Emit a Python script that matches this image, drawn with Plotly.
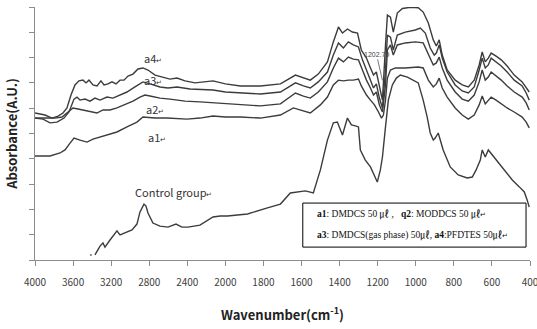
import plotly.graph_objects as go

# ---------------- data (wavenumber in cm-1, absorbance in arbitrary units) ----------------
tick_labels = ["4000", "3600", "3200", "2800", "2400", "2000", "1800", "1600",
               "1400", "1200", "1000", "800", "600", "400"]
tick_wavenumbers = [4000, 3600, 3200, 2800, 2400, 2000, 1800, 1600, 1400, 1200, 1000, 800, 600, 400]

control_wn = [3420, 3405, None, 3370, 3317, 3286, 3265, 3212, 3139, 3107, 3055, 2981, 2929, 2897, 2855, 2834,
              2813, 2761, 2687, 2603, 2519, 2456, 2393, 2267, 2130, 2053, 1989, 1884, 1779, 1711,
              1659, 1622, 1580, 1538, 1501, 1464, 1433, 1412, 1385, 1359, 1338, 1317, 1301, 1291,
              1265, 1238, 1217, 1202, 1186, 1175, 1159, 1144, 1123, 1102, 1081, 1044, 987, 961,
              940, 924, 908, 898, 882, 871, 856, 819, 777, 730, 703, 683, 661, 651, 635, 619,
              598, 578, 562, 525, 493, 456, 430, 415, 404]
control_abs = [0.20, 0.20, None, 0.20, 0.55, 0.67, 0.51, 0.79, 1.15, 0.99, 1.07, 1.19, 1.42, 1.90, 2.21, 2.13,
               1.86, 1.46, 1.34, 1.30, 1.42, 1.30, 1.30, 1.38, 1.70, 1.74, 1.74, 1.82, 2.06, 2.21,
               2.65, 2.69, 2.73, 2.65, 3.56, 4.74, 5.42, 5.45, 4.94, 5.61, 5.34, 5.30, 5.26, 4.35,
               3.95, 3.68, 3.36, 3.08, 3.56, 4.07, 5.26, 6.32, 6.92, 7.19, 7.31, 7.23, 7.00, 6.32,
               5.65, 5.02, 4.74, 4.82, 5.02, 4.74, 4.35, 3.68, 3.36, 3.24, 3.28, 3.56, 3.95, 4.35,
               4.07, 4.35, 4.15, 3.95, 3.83, 3.48, 3.16, 2.89, 2.69, 2.37, 2.09]

a1_wn = [4000, 3842, 3737, 3685, 3632, 3590, 3527, 3454, 3391, 3317, 3233, 3139, 3034, 2929, 2866,
         2739, 2613, 2403, 2267, 2130, 2000, 1921, 1816, 1711, 1643, 1606, 1554, 1501, 1464, 1433,
         1406, 1380, 1354, 1328, 1301, 1286, 1259, 1238, 1217, 1196, 1180, 1170, 1159, 1149, 1133,
         1107, 1055, 987, 961, 934, 908, 892, 877, 861, 835, 793, 756, 724, 693, 667, 651, 635,
         619, 604, 578, 551, 520, 483, 441, 420, 404]
a1_abs = [4.11, 4.11, 4.23, 4.35, 4.62, 4.82, 4.74, 4.66, 4.78, 4.86, 4.94, 5.06, 5.26, 5.45, 5.65,
          5.61, 5.61, 5.57, 5.61, 5.69, 5.65, 5.65, 5.61, 5.73, 6.01, 5.93, 5.81, 6.13, 6.44, 6.92,
          7.11, 7.08, 7.11, 7.11, 7.15, 6.88, 6.52, 6.32, 6.13, 5.85, 5.61, 5.73, 6.32, 7.19, 7.51,
          7.59, 7.59, 7.63, 7.59, 7.11, 6.84, 6.96, 7.19, 6.80, 6.44, 6.01, 5.73, 5.57, 5.73, 6.13,
          6.48, 6.17, 6.32, 6.44, 6.32, 6.17, 6.01, 5.85, 5.65, 5.45, 5.22]

a2_wn = [4000, 3895, 3790, 3716, 3653, 3601, 3548, 3496, 3422, 3349, 3286, 3212, 3139, 3055, 2971,
         2897, 2845, 2792, 2687, 2582, 2424, 2267, 2130, 2000, 1921, 1816, 1711, 1632, 1590, 1554,
         1512, 1464, 1433, 1406, 1380, 1354, 1328, 1301, 1280, 1259, 1238, 1222, 1207, 1191, 1175,
         1159, 1149, 1133, 1118, 1097, 1055, 1002, 961, 934, 908, 892, 877, 861, 835, 793, 756,
         724, 693, 667, 651, 635, 619, 604, 578, 551, 520, 483, 441, 420, 404]
a2_abs = [5.61, 5.61, 5.61, 5.65, 5.85, 6.01, 5.97, 5.93, 5.85, 5.81, 5.93, 5.93, 6.01, 6.13, 6.28,
          6.44, 6.52, 6.48, 6.40, 6.36, 6.28, 6.25, 6.21, 6.17, 6.13, 6.09, 6.17, 6.60, 6.48, 6.40,
          6.64, 7.04, 7.59, 7.98, 7.83, 8.02, 7.94, 7.91, 7.51, 7.11, 6.80, 6.52, 6.64, 6.13, 5.85,
          6.92, 8.30, 8.50, 8.10, 8.50, 8.58, 8.62, 8.58, 8.10, 7.71, 7.79, 8.02, 7.59, 7.11, 6.64,
          6.36, 6.28, 6.52, 7.04, 7.51, 7.11, 7.23, 7.43, 7.27, 7.11, 6.88, 6.64, 6.44, 6.21, 5.93]

a3_wn = [4000, 3916, 3842, 3769, 3695, 3643, 3590, 3559, 3527, 3475, 3422, 3370, 3317, 3244, 3181,
         3107, 3034, 2950, 2866, 2792, 2687, 2603, 2508, 2372, 2214, 2130, 2000, 1921, 1816, 1711,
         1632, 1590, 1554, 1512, 1464, 1433, 1406, 1380, 1354, 1328, 1301, 1280, 1259, 1238, 1222,
         1207, 1191, 1175, 1159, 1149, 1133, 1118, 1097, 1055, 1002, 976, 950, 924, 903, 892, 877,
         861, 835, 793, 756, 724, 693, 667, 651, 635, 619, 604, 578, 551, 520, 483, 441, 420, 404]
a3_abs = [5.61, 5.57, 5.42, 5.45, 5.61, 5.85, 6.36, 6.44, 6.32, 6.36, 6.28, 6.40, 6.32, 6.44, 6.40,
          6.52, 6.64, 6.84, 7.04, 6.96, 6.84, 6.80, 6.84, 6.76, 6.72, 6.72, 6.64, 6.60, 6.56, 6.64,
          7.00, 6.88, 6.80, 7.04, 7.43, 8.10, 8.58, 8.38, 8.62, 8.50, 8.42, 7.91, 7.51, 7.11, 6.80,
          6.96, 6.40, 6.01, 7.51, 8.89, 8.81, 8.30, 8.89, 9.01, 9.09, 9.17, 8.97, 8.38, 8.10, 8.18,
          8.50, 7.98, 7.43, 6.92, 6.68, 6.60, 6.84, 7.51, 7.98, 7.59, 7.71, 7.98, 7.83, 7.67, 7.43,
          7.11, 6.88, 6.60, 6.32]

a4_wn = [4000, 3895, 3821, 3758, 3706, 3664, 3622, 3580, 3538, 3496, 3464, 3433, 3391, 3349, 3307,
         3275, 3233, 3191, 3149, 3107, 3065, 3023, 2971, 2918, 2866, 2813, 2739, 2655, 2582, 2508,
         2424, 2319, 2214, 2130, 2000, 1921, 1816, 1711, 1632, 1590, 1554, 1512, 1464, 1433, 1406,
         1385, 1359, 1333, 1306, 1286, 1259, 1238, 1222, 1207, 1191, 1175, 1159, 1149, 1133, 1118,
         1097, 1070, 1028, 987, 961, 934, 908, 892, 877, 861, 835, 793, 756, 724, 693, 667, 651,
         635, 619, 604, 578, 551, 520, 483, 441, 420, 404]
a4_abs = [5.81, 5.73, 5.61, 5.69, 5.81, 6.01, 6.52, 6.92, 7.08, 7.11, 7.00, 7.11, 6.92, 6.88, 7.08,
          6.92, 6.96, 7.04, 6.96, 7.11, 7.11, 7.27, 7.35, 7.55, 7.59, 7.51, 7.31, 7.23, 7.15, 7.19,
          7.08, 7.00, 7.04, 7.08, 6.96, 6.88, 6.88, 6.96, 7.31, 7.19, 7.11, 7.35, 7.83, 8.62, 9.21,
          8.97, 9.13, 9.01, 8.97, 8.30, 7.98, 7.59, 7.31, 7.43, 6.80, 6.32, 8.50, 9.68, 9.60, 9.01,
          9.76, 9.94, 9.99, 9.97, 9.80, 9.37, 8.70, 8.46, 8.70, 8.10, 7.51, 7.11, 6.92, 6.84, 7.11,
          7.71, 8.22, 7.83, 7.98, 8.18, 8.06, 7.91, 7.67, 7.31, 7.04, 6.84, 6.64]

series_names = ["Control group", "a1", "a2", "a3", "a4"]


# ---------------- axis transform: 400 cm-1 steps above 2000, 200 cm-1 steps below ----------------
def wn_to_pos(w):
    if w is None:
        return None
    if w >= 2000:
        return (4000 - w) / 400.0
    return 5 + (2000 - w) / 200.0


LINE_COLOR = "#3c3c3c"
fig = go.Figure()
for name, wn, ab in [("Control group", control_wn, control_abs), ("a1", a1_wn, a1_abs),
                     ("a2", a2_wn, a2_abs), ("a3", a3_wn, a3_abs), ("a4", a4_wn, a4_abs)]:
    fig.add_trace(go.Scatter(x=[wn_to_pos(w) for w in wn], y=ab, mode="lines", name=name,
                             line=dict(color=LINE_COLOR, width=1.4), showlegend=False,
                             connectgaps=False))

label_font = dict(family="Noto Sans CJK KR, Noto Sans, sans-serif", size=11, color="#333333")
ret = "<span style='font-size:7px'>↵</span>"
# curve labels (wavenumber, absorbance)
curve_labels = [("a4", 2760, 8.0), ("a3", 2760, 7.1), ("a2", 2740, 5.95), ("a1", 2720, 4.85),
                ("Control group", 2550, 2.7)]
for txt, w, a in curve_labels:
    fig.add_annotation(x=wn_to_pos(w), y=a, text=txt + ret, showarrow=False, font=label_font,
                       xanchor="center", yanchor="middle")

# peak label
fig.add_annotation(x=wn_to_pos(1175), y=7.1, text="1202.79", showarrow=True, arrowhead=0,
                   arrowwidth=0.8, arrowcolor="#555555", ax=-6, ay=-26,
                   font=dict(family="Liberation Sans, sans-serif", size=7, color="#444444"))

# legend box
fig.add_shape(type="rect", xref="paper", yref="paper", x0=0.541, x1=0.992, y0=0.051, y1=0.225,
              line=dict(color="black", width=1), fillcolor="white", layer="above")
box_font = dict(family="Liberation Serif, Noto Sans CJK KR, serif", size=9.5, color="#111111")
fig.add_annotation(xref="paper", yref="paper", x=0.565, y=0.178, xanchor="left", yanchor="middle",
                   showarrow=False, font=box_font,
                   text="<b>a1</b>: DMDCS 50 ㎕ ,&nbsp;&nbsp; <b>q2</b>: MODDCS 50 ㎕" + ret)
fig.add_annotation(xref="paper", yref="paper", x=0.565, y=0.098, xanchor="left", yanchor="middle",
                   showarrow=False, font=box_font,
                   text="<b>a3</b>: DMDCS(gas phase) 50㎕, <b>a4</b>:PFDTES 50㎕" + ret)

axis_font = dict(family="Noto Sans CJK KR, Noto Sans, sans-serif", size=10, color="#404040")
fig.update_layout(
    width=537, height=329,
    margin=dict(l=35, r=7, t=7, b=69, autoexpand=False),
    paper_bgcolor="white", plot_bgcolor="white",
    xaxis=dict(range=[0, 13], tickvals=[wn_to_pos(w) for w in tick_wavenumbers], ticktext=tick_labels,
               automargin=False,
               showgrid=False, zeroline=False, showline=True, linecolor="#8c8c8c", linewidth=1,
               ticks="outside", ticklen=5, tickcolor="#8c8c8c", tickfont=axis_font,
               ticklabelstandoff=8, ticklabeloverflow="allow",
               title=dict(text="Wavenumber(cm<sup>-1</sup>)", standoff=22,
                          font=dict(family="Noto Sans CJK KR, Noto Sans, sans-serif", size=13,
                                    color="#222222", weight="bold"))),
    yaxis=dict(range=[0, 10], tickvals=list(range(0, 11)), showticklabels=False, automargin=False,
               showgrid=False, zeroline=False, showline=True, linecolor="#8c8c8c", linewidth=1,
               ticks="outside", ticklen=5, tickcolor="#8c8c8c",
               title=dict(text="Absorbance(A.U.)", standoff=8,
                          font=dict(family="Noto Sans CJK KR, Noto Sans, sans-serif", size=13,
                                    color="#222222", weight="bold"))),
)

fig.write_html("out.html")
